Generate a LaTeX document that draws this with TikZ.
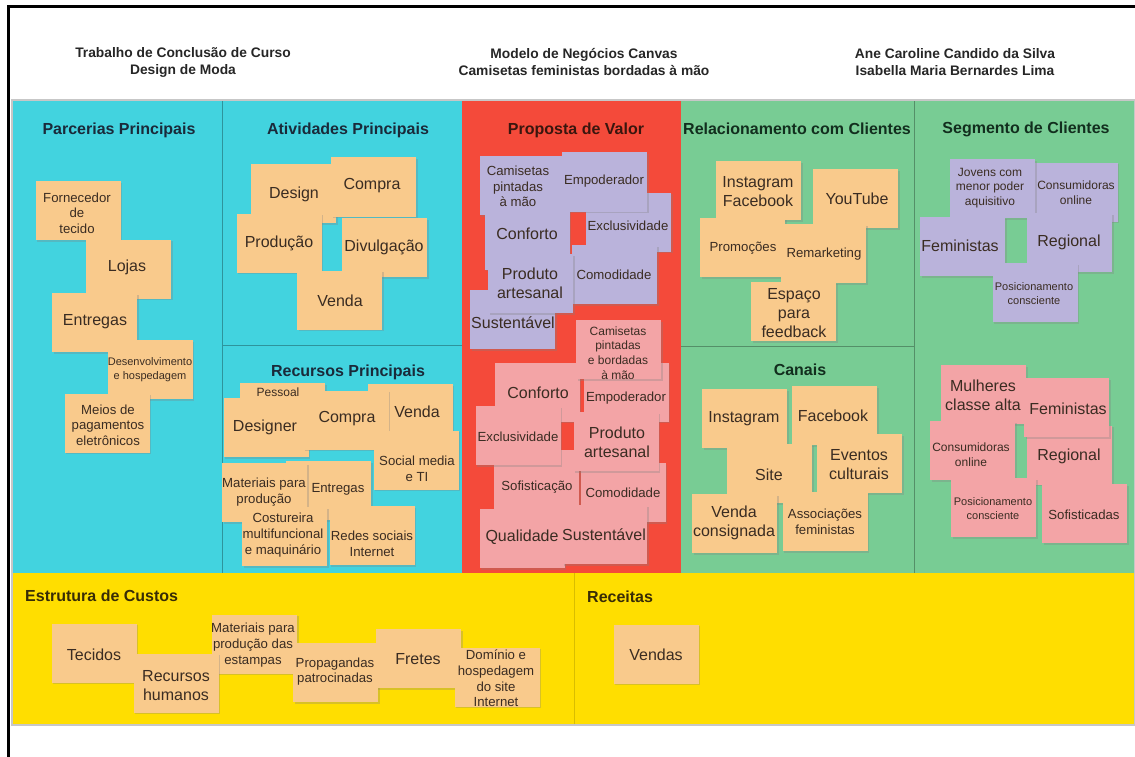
\documentclass[tikz,border=0pt]{standalone}
\usepackage{fontspec}
\setmainfont{Liberation Sans}
\usepackage{tikz}
\usetikzlibrary{shadows}
\usepackage{xcolor}
\definecolor{panelCyan}{RGB}{66,211,223}
\definecolor{panelRed}{RGB}{244,74,58}
\definecolor{panelGreen}{RGB}{120,204,148}
\definecolor{panelYellow}{RGB}{255,222,0}
\definecolor{notePeach}{RGB}{249,202,140}
\definecolor{noteLilac}{RGB}{186,179,219}
\definecolor{noteRose}{RGB}{243,164,166}
\definecolor{noteInk}{RGB}{58,44,34}
\definecolor{cyanInk}{RGB}{26,42,58}
\definecolor{redInk}{RGB}{58,22,14}
\definecolor{greenInk}{RGB}{18,46,30}
\definecolor{yellowInk}{RGB}{56,44,6}
\newcommand{\postit}[6]{\node[postit,#2] (#1) at (#3) {};%
  \node[postitText,#4] (#1Txt) at (#5) {#6};}
\tikzset{
  postit/.style={
    rectangle,
    minimum width=85pt,
    minimum height=59pt,
    inner sep=0pt,
    drop shadow={opacity=0.3, shadow xshift=1.5pt, shadow yshift=-1.5pt}
  },
  peach/.style={fill=notePeach},
  lilac/.style={fill=noteLilac},
  rose/.style={fill=noteRose}
}
\tikzset{
  postitText/.style={align=center, inner sep=0pt, text=noteInk},
  bigTxt/.style={font=\fontsize{16}{19}\selectfont},
  midTxt/.style={font=\fontsize{13.2}{15.7}\selectfont},
  smlTxt/.style={font=\fontsize{12}{14.6}\selectfont},
  tnyTxt/.style={font=\fontsize{11}{14}\selectfont}
}
\tikzset{
  headTxt/.style={align=center, inner sep=0pt, text=black!85,
    font=\bfseries\fontsize{13.8}{17}\selectfont},
  blockTitle/.style={anchor=base, inner sep=0pt,
    font=\bfseries\fontsize{16}{19}\selectfont}
}

\begin{document}
\begin{tikzpicture}[x=1pt, y=-1pt]
  \useasboundingbox (0,0) rectangle (1135,757);

  % page frame
  \draw[line width=2.6pt] (8.3,757) -- (8.3,6.3) -- (1135,6.3);

  \node[headTxt] (course) at (183,62) {Trabalho de Conclusão de Curso\\Design de Moda};
  \node[headTxt] (model) at (584,62) {Modelo de Negócios Canvas\\Camisetas feministas bordadas à mão};
  \node[headTxt] (authors) at (955,62) {Ane Caroline Candido da Silva\\Isabella Maria Bernardes Lima};

  % canvas blocks
  \fill[panelCyan] (12,101) rectangle (462,573);
  \fill[panelRed] (462,101) rectangle (681,573);
  \fill[panelGreen] (681,101) rectangle (1135,573);
  \fill[panelYellow] (12,573) rectangle (1135,725);
  \draw[panelCyan!70!black, line width=0.8pt] (222,101) -- (222,573) (222,345) -- (462,345);
  \draw[panelGreen!70!black, line width=0.8pt] (914,101) -- (914,573) (681,346) -- (914,346);
  \draw[panelYellow!85!black, line width=0.8pt] (574,573) -- (574,725);
  \draw[black!22, line width=1.2pt] (12,100) rectangle (1135,725);

  \node[blockTitle, text=cyanInk] (partnersTitle) at (119,135) {Parcerias Principais};
  \node[blockTitle, text=cyanInk] (activitiesTitle) at (348,135) {Atividades Principais};
  \node[blockTitle, text=cyanInk] (resourcesTitle) at (348,376) {Recursos Principais};
  \node[blockTitle, text=redInk] (valueTitle) at (576,135) {Proposta de Valor};
  \node[blockTitle, text=greenInk] (relationTitle) at (797,135) {Relacionamento com Clientes};
  \node[blockTitle, text=greenInk] (channelsTitle) at (800,375) {Canais};
  \node[blockTitle, text=greenInk] (segmentTitle) at (1026,134) {Segmento de Clientes};
  \node[blockTitle, anchor=base west, text=yellowInk] (costTitle) at (25,601) {Estrutura de Custos};
  \node[blockTitle, anchor=base west, text=yellowInk] (revenueTitle) at (587,602) {Receitas};

  % key partners
  \postit{supplier}{peach}{78,210.5}{midTxt}{77,213}{Fornecedor\\de\\tecido}
  \postit{stores}{peach}{128.5,269}{bigTxt}{127,267}{Lojas}
  \postit{delivery}{peach}{94.5,322.5}{bigTxt}{95,322}{Entregas}
  \postit{hosting}{peach}{150,369.5}{tnyTxt}{150,370}{Desenvolvimento\\e hospedagem}
  \postit{payments}{peach}{107,423}{midTxt}{108,425}{Meios de\\pagamentos\\eletrônicos}

  % key activities
  \postit{design}{peach}{293.5,193.5}{bigTxt}{294,194}{Design}
  \postit{buying}{peach}{373.5,187}{bigTxt}{372,186}{Compra}
  \postit{making}{peach}{279,243}{bigTxt}{279,243}{Produção}
  \postit{promoting}{peach}{384.5,247.5}{bigTxt}{384,247}{Divulgação}
  \postit{selling}{peach}{339.5,300}{bigTxt}{340,301}{Venda}

  % key resources
  \postit{staff}{peach}{282.5,412.5}{smlTxt}{278,392}{Pessoal}
  \postit{designer}{peach}{266,427.5}{bigTxt}{265,427}{Designer}
  \postit{salesRes}{peach}{410,413.5}{bigTxt}{417,412}{Venda}
  \postit{buyingRes}{peach}{346,420}{bigTxt}{347,419}{Compra}
  \postit{socialIT}{peach}{416,460}{midTxt}{417,469}{Social media\\e TI}
  \postit{deliveryRes}{peach}{328.5,490.5}{midTxt}{338,489}{Entregas}
  \postit{materials}{peach}{264.5,492.5}{midTxt}{264,492}{Materiais para\\produção}
  \postit{seamstress}{peach}{284.5,536.5}{midTxt}{283,535}{Costureira\\multifuncional\\e maquinário}
  \postit{networks}{peach}{372,535.5}{midTxt}{372,543.5}{Redes sociais\\Internet}

  % value proposition, first line of products
  \postit{greenA}{lilac}{512.5,319.5}{bigTxt}{513,323}{Sustentável}
  \postit{exclusiveA}{lilac}{628.5,222}{midTxt}{628,226}{Exclusividade}
  \postit{paintedA}{lilac}{522,185.5}{midTxt}{518,186.5}{Camisetas\\pintadas\\à mão}
  \postit{empowerA}{lilac}{604.5,182}{midTxt}{604,181}{Empoderador}
  \postit{comfortA}{lilac}{527,240}{bigTxt}{527,234}{Conforto}
  \postit{easeA}{lilac}{614.5,274.5}{midTxt}{614,275}{Comodidade}
  \postit{craftA}{lilac}{530.5,283.5}{bigTxt}{530,283.5}{Produto\\artesanal}

  % value proposition, second line of products
  \postit{comfortB}{rose}{537,392}{bigTxt}{538,393}{Conforto}
  \postit{empowerB}{rose}{626,392}{midTxt}{626,398}{Empoderador}
  \postit{paintedB}{rose}{618.5,349.5}{smlTxt}{618,353}{Camisetas\\pintadas\\e bordadas\\à mão}
  \postit{refinedB}{rose}{536.5,479.5}{midTxt}{537,487}{Sofisticação}
  \postit{exclusiveB}{rose}{518,435.5}{midTxt}{518,437}{Exclusividade}
  \postit{easeB}{rose}{623,492.5}{midTxt}{623,493}{Comodidade}
  \postit{craftB}{rose}{616,441.5}{bigTxt}{617,442.5}{Produto\\artesanal}
  \postit{qualityB}{rose}{522,538.5}{bigTxt}{522,537}{Qualidade}
  \postit{greenB}{rose}{604.5,534.5}{bigTxt}{604,535}{Sustentável}

  % customer relationships
  \postit{instaFb}{peach}{758.5,190.5}{bigTxt}{758,191.5}{Instagram\\Facebook}
  \postit{youtube}{peach}{855.5,198.5}{bigTxt}{857,199}{YouTube}
  \postit{promos}{peach}{742.5,247.5}{midTxt}{743,248}{Promoções}
  \postit{remarketing}{peach}{823.5,253.5}{midTxt}{824,254}{Remarketing}
  \postit{feedback}{peach}{793.5,311.5}{bigTxt}{794,313}{Espaço\\para\\feedback}

  % channels
  \postit{instaCh}{peach}{744.5,418.5}{bigTxt}{744,419}{Instagram}
  \postit{fbCh}{peach}{834.5,415.5}{bigTxt}{833,416}{Facebook}
  \postit{site}{peach}{769.5,473.5}{bigTxt}{769,475}{Site}
  \postit{events}{peach}{859.5,463.5}{bigTxt}{859,465}{Eventos\\culturais}
  \postit{consigned}{peach}{734.5,523.5}{bigTxt}{734,522.5}{Venda\\consignada}
  \postit{groups}{peach}{825,521.5}{midTxt}{825,522}{Associações\\feministas}

  % customer segments, first line
  \postit{onlineA}{lilac}{1075,192}{smlTxt}{1076,193}{Consumidoras\\online}
  \postit{youngA}{lilac}{992.5,188.5}{smlTxt}{990,188}{Jovens com\\menor poder\\aquisitivo}
  \postit{regionA}{lilac}{1069.5,242.5}{bigTxt}{1069,242}{Regional}
  \postit{feministA}{lilac}{962.5,246.5}{bigTxt}{960,246}{Feministas}
  \postit{awareA}{lilac}{1035,292.5}{tnyTxt}{1034,294}{Posicionamento\\consciente}

  % customer segments, second line
  \postit{upperB}{rose}{983.5,394.5}{bigTxt}{983,395.5}{Mulheres\\classe alta}
  \postit{regionB}{rose}{1069.5,455}{bigTxt}{1069,456}{Regional}
  \postit{feministB}{rose}{1066.5,407.5}{bigTxt}{1068,409}{Feministas}
  \postit{onlineB}{rose}{972.5,450.5}{smlTxt}{971,454.5}{Consumidoras\\online}
  \postit{awareB}{rose}{993.5,507.5}{tnyTxt}{993,509}{Posicionamento\\consciente}
  \postit{refinedSeg}{rose}{1084.5,513.5}{midTxt}{1084,515}{Sofisticadas}

  % cost structure
  \postit{fabrics}{peach}{94,653}{bigTxt}{94,655}{Tecidos}
  \postit{printing}{peach}{254.5,644}{midTxt}{253,645}{Materiais para\\produção das\\estampas}
  \postit{people}{peach}{176,683}{bigTxt}{176,685.5}{Recursos\\humanos}
  \postit{ads}{peach}{335.5,672.5}{midTxt}{335,671.5}{Propagandas\\patrocinadas}
  \postit{freight}{peach}{418.5,658.5}{bigTxt}{418,659}{Fretes}
  \postit{domain}{peach}{497,677}{midTxt}{496,678.5}{Domínio e\\hospedagem\\do site\\Internet}

  % revenue streams
  \postit{sales}{peach}{656,654}{bigTxt}{656,655}{Vendas}
\end{tikzpicture}
\end{document}
